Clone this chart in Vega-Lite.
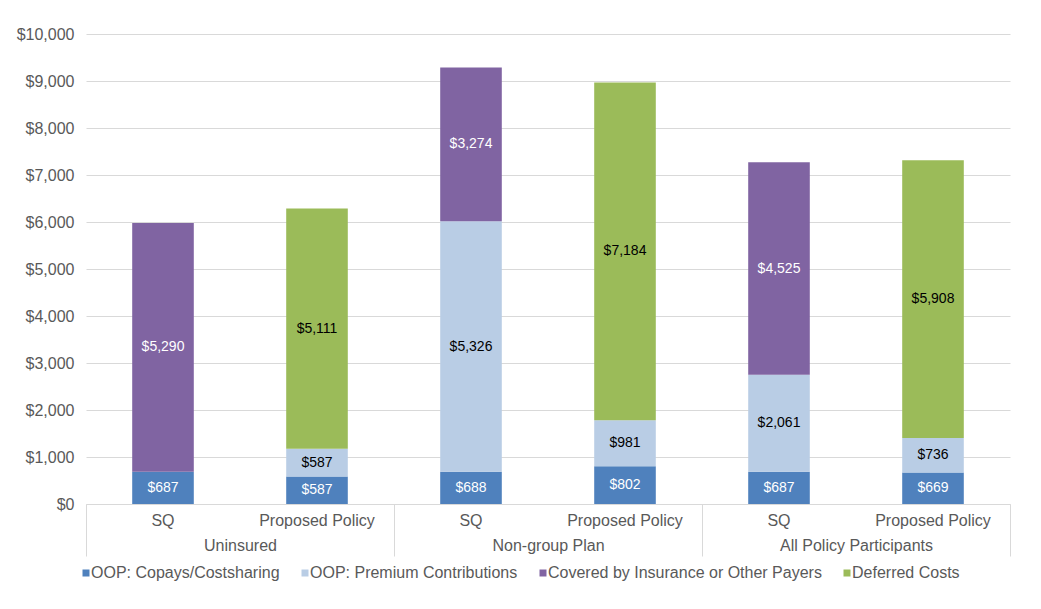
{
  "$schema": "https://vega.github.io/schema/vega-lite/v6.json",
  "width": 924,
  "height": 470,
  "autosize": "none",
  "padding": {"left": 86, "top": 34, "right": 31, "bottom": 105},
  "background": "white",
  "config": {
    "font": "Liberation Sans",
    "view": {"stroke": null},
    "axis": {"labelFont": "Liberation Sans", "labelColor": "#595959", "labelFontSize": 16}
  },
  "data": {"values": [
    {"group": "Uninsured", "policy": "SQ", "key": "Uninsured|SQ", "series": "OOP: Copays/Costsharing", "ord": 1, "value": 687},
    {"group": "Uninsured", "policy": "SQ", "key": "Uninsured|SQ", "series": "Covered by Insurance or Other Payers", "ord": 3, "value": 5290},
    {"group": "Uninsured", "policy": "Proposed Policy", "key": "Uninsured|Proposed Policy", "series": "OOP: Copays/Costsharing", "ord": 1, "value": 587},
    {"group": "Uninsured", "policy": "Proposed Policy", "key": "Uninsured|Proposed Policy", "series": "OOP: Premium Contributions", "ord": 2, "value": 587},
    {"group": "Uninsured", "policy": "Proposed Policy", "key": "Uninsured|Proposed Policy", "series": "Deferred Costs", "ord": 4, "value": 5111},
    {"group": "Non-group Plan", "policy": "SQ", "key": "Non-group Plan|SQ", "series": "OOP: Copays/Costsharing", "ord": 1, "value": 688},
    {"group": "Non-group Plan", "policy": "SQ", "key": "Non-group Plan|SQ", "series": "OOP: Premium Contributions", "ord": 2, "value": 5326},
    {"group": "Non-group Plan", "policy": "SQ", "key": "Non-group Plan|SQ", "series": "Covered by Insurance or Other Payers", "ord": 3, "value": 3274},
    {"group": "Non-group Plan", "policy": "Proposed Policy", "key": "Non-group Plan|Proposed Policy", "series": "OOP: Copays/Costsharing", "ord": 1, "value": 802},
    {"group": "Non-group Plan", "policy": "Proposed Policy", "key": "Non-group Plan|Proposed Policy", "series": "OOP: Premium Contributions", "ord": 2, "value": 981},
    {"group": "Non-group Plan", "policy": "Proposed Policy", "key": "Non-group Plan|Proposed Policy", "series": "Deferred Costs", "ord": 4, "value": 7184},
    {"group": "All Policy Participants", "policy": "SQ", "key": "All Policy Participants|SQ", "series": "OOP: Copays/Costsharing", "ord": 1, "value": 687},
    {"group": "All Policy Participants", "policy": "SQ", "key": "All Policy Participants|SQ", "series": "OOP: Premium Contributions", "ord": 2, "value": 2061},
    {"group": "All Policy Participants", "policy": "SQ", "key": "All Policy Participants|SQ", "series": "Covered by Insurance or Other Payers", "ord": 3, "value": 4525},
    {"group": "All Policy Participants", "policy": "Proposed Policy", "key": "All Policy Participants|Proposed Policy", "series": "OOP: Copays/Costsharing", "ord": 1, "value": 669},
    {"group": "All Policy Participants", "policy": "Proposed Policy", "key": "All Policy Participants|Proposed Policy", "series": "OOP: Premium Contributions", "ord": 2, "value": 736},
    {"group": "All Policy Participants", "policy": "Proposed Policy", "key": "All Policy Participants|Proposed Policy", "series": "Deferred Costs", "ord": 4, "value": 5908}
  ]},
  "resolve": {"scale": {"x": "independent"}, "axis": {"x": "independent"}},
  "layer": [
    {
      "encoding": {
        "x": {
          "field": "key", "type": "nominal",
          "scale": {"domain": ["Uninsured|SQ", "Uninsured|Proposed Policy", "Non-group Plan|SQ", "Non-group Plan|Proposed Policy", "All Policy Participants|SQ", "All Policy Participants|Proposed Policy"], "paddingInner": 0.6, "paddingOuter": 0.3},
          "axis": {"title": null, "orient": "bottom", "labelExpr": "split(datum.label, '|')[1]", "labelAngle": 0, "ticks": false, "labelPadding": 8, "domainColor": "#D9D9D9", "domainWidth": 1}
        }
      },
      "layer": [
        {
          "mark": {"type": "bar"},
          "encoding": {
            "y": {
              "field": "value", "type": "quantitative", "stack": "zero",
              "scale": {"domain": [0, 10000]},
              "axis": {"title": null, "format": "$,.0f", "tickCount": 10, "domain": false, "ticks": false, "labelPadding": 12, "gridColor": "#D9D9D9", "gridWidth": 1}
            },
            "color": {
              "field": "series", "type": "nominal",
              "scale": {"domain": ["OOP: Copays/Costsharing", "OOP: Premium Contributions", "Covered by Insurance or Other Payers", "Deferred Costs"], "range": ["#4F81BD", "#B9CDE5", "#8064A2", "#9BBB59"]},
              "legend": {"title": null, "orient": "none", "direction": "horizontal", "legendX": -8, "legendY": 531, "symbolType": "square", "symbolSize": 49, "symbolStrokeWidth": 0, "labelFontSize": 16, "labelColor": "#595959", "labelFont": "Liberation Sans", "labelOffset": -3, "columnPadding": 17, "labelLimit": 400}
            },
            "order": {"field": "ord", "type": "quantitative"}
          }
        },
        {
          "mark": {"type": "text", "fontSize": 14, "font": "Liberation Sans", "baseline": "middle"},
          "encoding": {
            "y": {"field": "value", "type": "quantitative", "stack": "zero", "bandPosition": 0.5},
            "order": {"field": "ord", "type": "quantitative"},
            "detail": {"field": "series"},
            "text": {"field": "value", "type": "quantitative", "format": "$,.0f"},
            "color": {
              "condition": {"test": "datum.series === 'OOP: Copays/Costsharing' || datum.series === 'Covered by Insurance or Other Payers'", "value": "white"},
              "value": "black"
            }
          }
        }
      ]
    },
    {
      "mark": {"type": "bar", "opacity": 0},
      "encoding": {
        "x": {
          "field": "group", "type": "nominal",
          "scale": {"domain": ["Uninsured", "Non-group Plan", "All Policy Participants"], "paddingInner": 0, "paddingOuter": 0},
          "axis": {"title": null, "orient": "bottom", "labelAngle": 0, "domain": false, "ticks": true, "tickBand": "extent", "tickSize": 52, "tickColor": "#D9D9D9", "labelPadding": -19}
        }
      }
    }
  ]
}
